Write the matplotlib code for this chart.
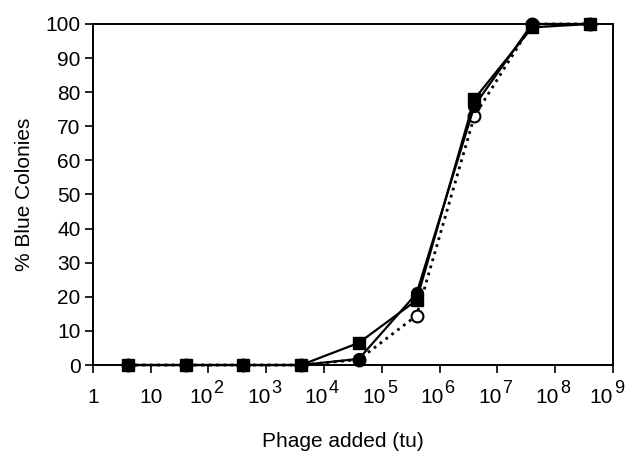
import matplotlib
matplotlib.use("Agg")
import matplotlib.pyplot as plt
import matplotlib.transforms as mtransforms

phage = [4, 40, 4e2, 4e3, 4e4, 4e5, 4e6, 4e7, 4e8]
squares = [0, 0, 0, 0, 6.5, 19, 78, 99, 100]
filled_circles = [0, 0, 0, 0, 1.8, 21, 76, 100, 100]
open_circles = [0, 0, 0, 0, 1.6, 14.5, 73, 100, 100]

xtick_vals = [1, 10, 1e2, 1e3, 1e4, 1e5, 1e6, 1e7, 1e8, 1e9]
xtick_bases = ['1', '10', '10', '10', '10', '10', '10', '10', '10', '10']
xtick_exps = ['', '', '2', '3', '4', '5', '6', '7', '8', '9']
ytick_vals = list(range(0, 101, 10))

plt.rcParams['font.family'] = ['Liberation Sans', 'DejaVu Sans']

DPI = 100
fig = plt.figure(figsize=(6.28, 4.61), dpi=DPI)
ax = fig.add_axes([0.148, 0.2082, 0.828, 0.7398])

ax.plot(phage, open_circles, linestyle=':', color='black', linewidth=2.0,
        marker='o', markersize=8.5, markerfacecolor='white', markeredgecolor='black',
        markeredgewidth=1.5, zorder=3, clip_on=False)
ax.plot(phage, filled_circles, linestyle='-', color='black', linewidth=1.6,
        marker='o', markersize=8.5, markerfacecolor='black', markeredgecolor='black',
        zorder=4, clip_on=False)
ax.plot(phage, squares, linestyle='-', color='black', linewidth=1.6,
        marker='s', markersize=8, markerfacecolor='black', markeredgecolor='black',
        zorder=5, clip_on=False)

ax.set_xscale('log')
ax.set_xlim(1, 1e9)
ax.set_ylim(0, 100)
ax.set_xticks(xtick_vals)
ax.set_xticklabels([])
ax.xaxis.set_minor_locator(matplotlib.ticker.NullLocator())
ax.set_yticks(ytick_vals)

for s in ax.spines.values():
    s.set_linewidth(1.4)
ax.tick_params(axis='both', which='major', direction='out', length=6, width=1.2,
               labelsize=15, colors='black')
ax.tick_params(axis='y', pad=3)

# custom x tick labels with large superscripts
px = 72.0 / DPI
trans = ax.get_xaxis_transform()
for i, (v, b, e) in enumerate(zip(xtick_vals, xtick_bases, xtick_exps)):
    if e == '':
        t = mtransforms.offset_copy(trans, fig=fig, x=0, y=-38 * px, units='points')
        ax.text(v, 0, b, transform=t, ha='center', va='baseline', fontsize=15,
                clip_on=False)
    else:
        shift = 4 if i < len(xtick_vals) - 1 else 0
        t1 = mtransforms.offset_copy(trans, fig=fig, x=shift * px, y=-38 * px, units='points')
        ax.text(v, 0, b, transform=t1, ha='right', va='baseline', fontsize=15,
                clip_on=False)
        t2 = mtransforms.offset_copy(trans, fig=fig, x=(shift + 1) * px, y=-28 * px, units='points')
        ax.text(v, 0, e, transform=t2, ha='left', va='baseline', fontsize=13,
                clip_on=False)

ax.set_xlabel('Phage added (tu)', fontsize=15)
ax.xaxis.set_label_coords(0.48, -0.195)
ax.set_ylabel('% Blue Colonies', fontsize=15, labelpad=8)

fig.savefig('out.png', dpi=DPI)
